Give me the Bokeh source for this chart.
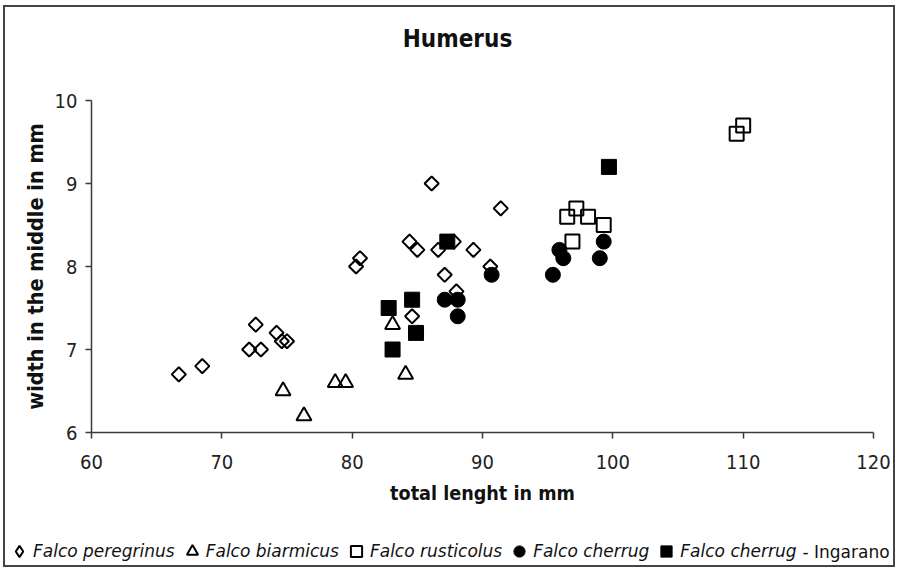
import math
from bokeh.plotting import figure
from bokeh.layouts import column
from bokeh.models import Legend, LegendItem, Label, FixedTicker, Range1d
from bokeh.embed import file_html
from bokeh.resources import INLINE

# ---- data ----
pere_x = [66.7, 68.5, 72.1, 73.0, 72.6, 74.2, 74.6, 75.0, 80.3, 80.6, 84.4,
          85.0, 86.1, 86.6, 87.1, 87.8, 89.3, 91.4, 90.6, 88.0, 84.6]
pere_y = [6.7, 6.8, 7.0, 7.0, 7.3, 7.2, 7.1, 7.1, 8.0, 8.1, 8.3,
          8.2, 9.0, 8.2, 7.9, 8.3, 8.2, 8.7, 8.0, 7.7, 7.4]
biar_x = [74.7, 76.3, 78.7, 79.5, 83.1, 84.1]
biar_y = [6.5, 6.2, 6.6, 6.6, 7.3, 6.7]
rust_x = [96.5, 97.2, 98.1, 99.3, 96.9, 109.5, 110.0]
rust_y = [8.6, 8.7, 8.6, 8.5, 8.3, 9.6, 9.7]
cher_x = [87.1, 88.1, 88.1, 90.7, 95.9, 96.2, 95.4, 99.3, 99.0]
cher_y = [7.6, 7.6, 7.4, 7.9, 8.2, 8.1, 7.9, 8.3, 8.1]
inga_x = [82.8, 83.1, 84.6, 84.9, 87.3, 99.7]
inga_y = [7.5, 7.0, 7.6, 7.2, 8.3, 9.2]

x_ticks = [60, 70, 80, 90, 100, 110, 120]
y_ticks = [6, 7, 8, 9, 10]
series_names = ["Falco peregrinus", "Falco biarmicus", "Falco rusticolus",
                "Falco cherrug", "Falco cherrug"]
ingarano_suffix = "- Ingarano"
title_text = "Humerus"
x_label = "total lenght in mm"
y_label = "width in the middle in mm"

COND = "DejaVu Sans Condensed"
REG = "DejaVu Sans"
W = 888


def bare(height):
    f = figure(width=W, height=height, output_backend="svg",
               toolbar_location=None, x_axis_type=None, y_axis_type=None,
               x_range=Range1d(0, 1), y_range=Range1d(0, 1),
               min_border=0, min_border_left=0, min_border_right=0,
               min_border_top=0, min_border_bottom=0)
    f.frame_align = False
    f.outline_line_color = None
    f.border_fill_color = "white"
    f.background_fill_color = "white"
    return f


# ---- header with the title ----
head = bare(58)
head.add_layout(Label(x=452, y=27, x_units="screen", y_units="screen",
                      text=title_text, text_font=COND, text_font_style="bold",
                      text_font_size="24px", text_baseline="middle",
                      text_align="center", text_color="#111111"))

# ---- main scatter plot ----
p = figure(width=W, height=462, output_backend="svg", toolbar_location=None,
           x_range=Range1d(60, 120), y_range=Range1d(6, 10),
           min_border_left=86, min_border_right=20, min_border_top=35,
           min_border_bottom=95)
p.frame_align = False
p.outline_line_color = None
p.xgrid.grid_line_color = None
p.ygrid.grid_line_color = None
p.background_fill_color = "white"
p.border_fill_color = "white"

for ax in (p.xaxis[0], p.yaxis[0]):
    ax.axis_line_color = "#3a3a3a"
    ax.axis_line_width = 1.5
    ax.major_tick_line_color = "#3a3a3a"
    ax.major_tick_line_width = 1.5
    ax.major_tick_in = 0
    ax.major_tick_out = 6
    ax.minor_tick_line_color = None
    ax.major_label_text_font = COND
    ax.major_label_text_font_size = "20px"
    ax.major_label_text_color = "#222222"
    ax.axis_label_text_font = COND
    ax.axis_label_text_font_style = "bold"
    ax.axis_label_text_color = "#111111"

p.xaxis.ticker = FixedTicker(ticks=x_ticks)
p.yaxis.ticker = FixedTicker(ticks=y_ticks)
p.xaxis.axis_label = x_label
p.yaxis.axis_label = y_label
p.xaxis.axis_label_text_font_size = "19.6px"
p.yaxis.axis_label_text_font_size = "21.5px"
p.xaxis.major_label_standoff = 16
p.xaxis.axis_label_standoff = 10
p.yaxis.major_label_standoff = 8
p.yaxis.axis_label_standoff = 4

LW = 2
p.scatter(pere_x, pere_y, marker="square", angle=math.pi / 4, size=10,
          fill_color=None, line_color="black", line_width=LW)
p.scatter(biar_x, biar_y, marker="triangle", size=15,
          fill_color=None, line_color="black", line_width=LW)
p.scatter(rust_x, rust_y, marker="square", size=14,
          fill_color=None, line_color="black", line_width=LW)
p.scatter(cher_x, cher_y, marker="circle", size=15,
          fill_color="black", line_color="black", line_width=1)
p.scatter(inga_x, inga_y, marker="square", size=15,
          fill_color="black", line_color="black", line_width=1)

# ---- legend strip (same series; their points fall outside this strip's view) ----
leg = bare(38)
l_pere = leg.scatter(pere_x, pere_y, marker="diamond", size=14,
                     fill_color=None, line_color="black", line_width=LW)
l_biar = leg.scatter(biar_x, biar_y, marker="triangle", size=15,
                     fill_color=None, line_color="black", line_width=LW)
l_rust = leg.scatter(rust_x, rust_y, marker="square", size=14,
                     fill_color=None, line_color="black", line_width=LW)
l_cher = leg.scatter(cher_x, cher_y, marker="circle", size=15,
                     fill_color="black", line_color="black", line_width=1)
l_inga = leg.scatter(inga_x, inga_y, marker="square", size=15,
                     fill_color="black", line_color="black", line_width=1)

items = [LegendItem(label=series_names[0], renderers=[l_pere]),
         LegendItem(label=series_names[1], renderers=[l_biar]),
         LegendItem(label=series_names[2], renderers=[l_rust]),
         LegendItem(label=series_names[3], renderers=[l_cher]),
         LegendItem(label=series_names[4], renderers=[l_inga])]
legend = Legend(items=items, orientation="horizontal", location=(0, 0),
                glyph_width=28, glyph_height=28, label_standoff=0, spacing=3,
                padding=0, margin=0, border_line_color=None,
                background_fill_alpha=0, label_text_font=REG,
                label_text_font_style="italic", label_text_font_size="17px",
                label_text_color="#111111")
leg.add_layout(legend, "center")
leg.add_layout(Label(x=797, y=14, x_units="screen", y_units="screen",
                     text=ingarano_suffix, text_font=REG,
                     text_font_size="17px", text_baseline="middle",
                     text_align="left", text_color="#111111"))

layout = column(head, p, leg, spacing=0,
                styles={"margin-left": "3px", "margin-top": "5px",
                        "border": "2px solid #444"})

open("out.html", "w").write(file_html(layout, INLINE))
